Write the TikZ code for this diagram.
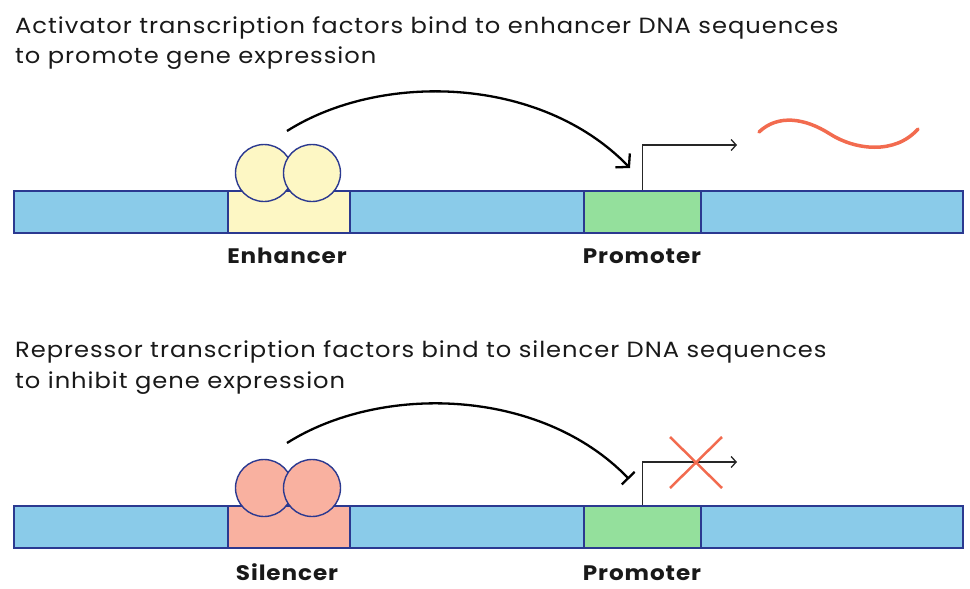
\documentclass[tikz,border=0pt]{standalone}
\usepackage{fontspec}
\setmainfont{Poppins}
\newfontfamily\ttlfont{Poppins}[FakeStretch=1.1,LetterSpace=4.4]
\usetikzlibrary{arrows.meta}
\definecolor{dnablue}{HTML}{8ACBE9}
\definecolor{edgeblue}{HTML}{2B3990}
\definecolor{enh}{HTML}{FDF7C4}
\definecolor{sil}{HTML}{F9B1A0}
\definecolor{prom}{HTML}{94E09C}
\definecolor{rna}{HTML}{F26B4F}
\begin{document}
\begin{tikzpicture}[x=1pt,y=-1pt,
 seg/.style={draw=edgeblue,line width=1.6pt,minimum height=42pt,inner sep=0,anchor=north west},
 tf/.style={circle,draw=edgeblue,line width=1.4pt,minimum size=57pt,inner sep=0},
 titletext/.style={anchor=base west,inner sep=0,text=black!90,font=\ttlfont\fontsize{22}{28}\selectfont},
 lab/.style={anchor=base,inner sep=0,text=black!90,font=\ttlfont\bfseries\fontsize{21}{25}\selectfont},
 conn/.style={line width=2.3pt,black},
 tss/.style={line width=1.3pt,black!85,-{Straight Barb[length=5pt,width=11pt]}},
 rnaline/.style={rna,line width=3.5pt,line cap=round},
]
\useasboundingbox (0,0) rectangle (970,589);
% titles
\node[titletext] (t1a) at (15,33) {Activator transcription factors bind to enhancer DNA sequences};
\node[titletext] (t1b) at (15,63) {to promote gene expression};
\node[titletext] (t2a) at (15,357) {Repressor transcription factors bind to silencer DNA sequences};
\node[titletext] (t2b) at (15,388) {to inhibit gene expression};
% top DNA
\node[seg,fill=dnablue,minimum width=949pt] (dna1) at (13,190) {};
\node[seg,fill=enh,minimum width=122pt] (enh) at (227,190) {};
\node[seg,fill=prom,minimum width=117pt] (pro1) at (583,190) {};
\node[tf,fill=enh] (a1) at (264,173) {};
\node[tf,fill=enh] (a2) at (312,173) {};
\node[lab] (l1) at (287,263) {Enhancer};
\node[lab] (l2) at (642,263) {Promoter};
\coordinate (tsse1) at (737,145);
\draw[tss] (pro1.north) |- (tsse1);
\coordinate (cs1) at (287,131);
\coordinate (ce1) at (630,168);
\draw[conn,-{Straight Barb[length=9pt,width=20pt]}] (cs1) .. controls (380,72) and (540,75) .. (ce1);
\draw[rnaline] (759,132) .. controls (778,114) and (805,118) .. (830,134)
  .. controls (855,150) and (895,155) .. (918,129);
% bottom DNA
\node[seg,fill=dnablue,minimum width=949pt] (dna2) at (13,505) {};
\node[seg,fill=sil,minimum width=122pt] (sil) at (227,505) {};
\node[seg,fill=prom,minimum width=117pt] (pro2) at (583,505) {};
\node[tf,fill=sil] (r1) at (264,488) {};
\node[tf,fill=sil] (r2) at (312,488) {};
\node[lab] (l3) at (287,580) {Silencer};
\node[lab] (l4) at (642,580) {Promoter};
\coordinate (tsse2) at (737,462);
\draw[tss] (pro2.north) |- (tsse2);
\coordinate (cs2) at (287,443);
\coordinate (ce2) at (629,479);
\draw[conn,-{Bar[width=18pt]}] (cs2) .. controls (380,384) and (540,387) .. (ce2);
\draw[rna,line width=2.5pt] (670,437) -- (722,488) (722,437) -- (670,488);
\end{tikzpicture}
\end{document}
